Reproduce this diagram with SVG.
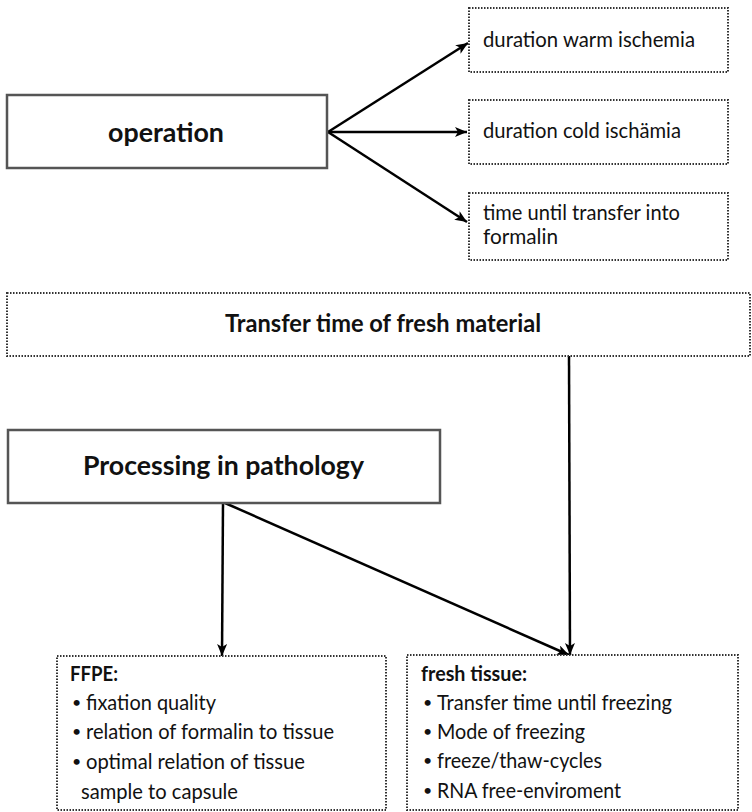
<svg xmlns="http://www.w3.org/2000/svg" width="752" height="812" viewBox="0 0 752 812">
<style>
.solid{fill:#fff;stroke:#555;stroke-width:2.5}
.dot{fill:#fff;stroke:#333;stroke-width:2;stroke-dasharray:1.5 1.5}
.t{font-family:Lato,"Liberation Sans",sans-serif;fill:#111}
.b{font-weight:bold}
.r{font-size:21px}
.bu{font-size:16px}
.big{font-size:27px}
.mid{font-size:24px}
.c{stroke:#000;stroke-width:2.5;fill:none}
</style>
<defs>
<marker id="ah" markerUnits="userSpaceOnUse" markerWidth="14" markerHeight="12" refX="12" refY="5" orient="auto">
<path d="M0,0 L12,5 L0,10 L3,5 z" fill="#000"/>
</marker>
</defs>
<rect width="752" height="812" fill="#fff"/>
<g id="connectors">
<line class="c" x1="328" y1="132" x2="468" y2="43" marker-end="url(#ah)"/>
<line class="c" x1="328" y1="132" x2="467" y2="132" marker-end="url(#ah)"/>
<line class="c" x1="328" y1="132" x2="467" y2="222" marker-end="url(#ah)"/>
<line class="c" x1="223" y1="503" x2="222" y2="656" marker-end="url(#ah)"/>
<line class="c" x1="225" y1="503" x2="569" y2="655" marker-end="url(#ah)"/>
<line class="c" x1="569" y1="356" x2="570" y2="655" marker-end="url(#ah)"/>
</g>
<g id="operation">
<rect class="solid" x="7" y="95" width="320" height="73"/>
<text class="t b big" x="108" y="142" textLength="116" lengthAdjust="spacingAndGlyphs">operation</text>
</g>
<g id="warm">
<rect class="dot" x="469" y="8" width="259" height="64"/>
<text class="t r" x="483" y="47" textLength="212" lengthAdjust="spacingAndGlyphs">duration warm ischemia</text>
</g>
<g id="cold">
<rect class="dot" x="469" y="100" width="259" height="64"/>
<text class="t r" x="483" y="138" textLength="198" lengthAdjust="spacingAndGlyphs">duration cold ischämia</text>
</g>
<g id="formalin">
<rect class="dot" x="469" y="193" width="259" height="67"/>
<text class="t r" x="483" y="220" textLength="197" lengthAdjust="spacingAndGlyphs">time until transfer into</text>
<text class="t r" x="483" y="244" textLength="75" lengthAdjust="spacingAndGlyphs">formalin</text>
</g>
<g id="transfer">
<rect class="dot" x="7" y="293" width="743" height="63"/>
<text class="t b mid" x="225" y="332" textLength="316" lengthAdjust="spacingAndGlyphs">Transfer time of fresh material</text>
</g>
<g id="processing">
<rect class="solid" x="8" y="430" width="432" height="73"/>
<text class="t b big" x="83" y="475" textLength="281" lengthAdjust="spacingAndGlyphs">Processing in pathology</text>
</g>
<g id="ffpe">
<rect class="dot" x="57" y="656" width="329" height="154"/>
<text class="t b r" x="70" y="681" textLength="48" lengthAdjust="spacingAndGlyphs">FFPE:</text>
<text class="t bu" x="72" y="708">•</text>
<text class="t r" x="86" y="710" textLength="130" lengthAdjust="spacingAndGlyphs">fixation quality</text>
<text class="t bu" x="72" y="737">•</text>
<text class="t r" x="86" y="739" textLength="248" lengthAdjust="spacingAndGlyphs">relation of formalin to tissue</text>
<text class="t bu" x="72" y="767">•</text>
<text class="t r" x="86" y="769" textLength="219" lengthAdjust="spacingAndGlyphs">optimal relation of tissue</text>
<text class="t r" x="81" y="799" textLength="157" lengthAdjust="spacingAndGlyphs">sample to capsule</text>
</g>
<g id="fresh">
<rect class="dot" x="407" y="655" width="331" height="155"/>
<text class="t b r" x="421" y="681" textLength="106" lengthAdjust="spacingAndGlyphs">fresh tissue:</text>
<text class="t bu" x="423" y="708">•</text>
<text class="t r" x="437" y="710" textLength="235" lengthAdjust="spacingAndGlyphs">Transfer time until freezing</text>
<text class="t bu" x="423" y="737">•</text>
<text class="t r" x="437" y="739" textLength="148" lengthAdjust="spacingAndGlyphs">Mode of freezing</text>
<text class="t bu" x="423" y="766">•</text>
<text class="t r" x="437" y="768" textLength="165" lengthAdjust="spacingAndGlyphs">freeze/thaw-cycles</text>
<text class="t bu" x="423" y="796">•</text>
<text class="t r" x="437" y="798" textLength="184" lengthAdjust="spacingAndGlyphs">RNA free-enviroment</text>
</g>
</svg>
